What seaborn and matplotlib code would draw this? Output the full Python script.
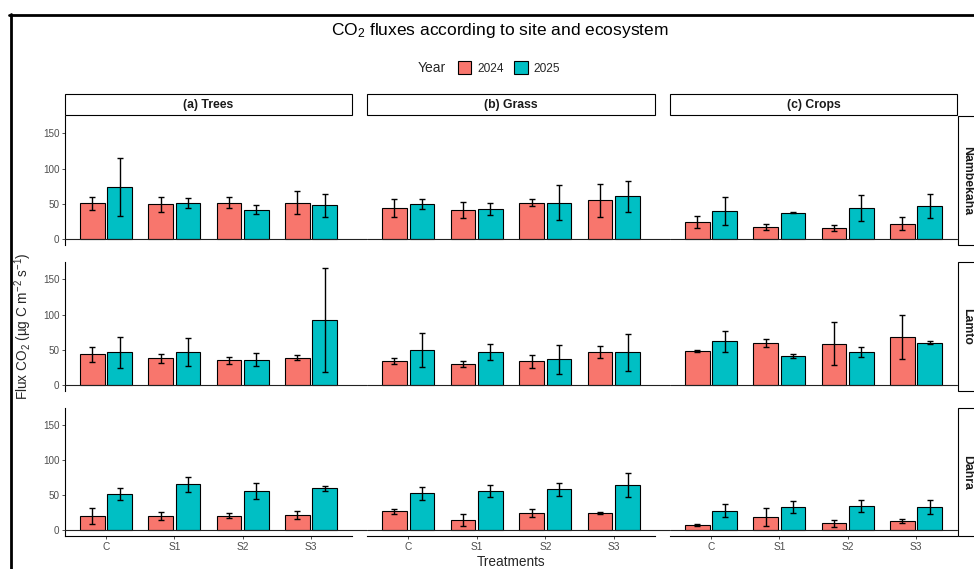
import matplotlib
matplotlib.use("Agg")
import matplotlib.pyplot as plt
import numpy as np
import pandas as pd
import seaborn as sns
from matplotlib.patches import Rectangle, Patch
from matplotlib.lines import Line2D

# ---------------------------------------------------------------- data
treatments = ["C", "S1", "S2", "S3"]
years = ["2024", "2025"]
ecosystems = ["(a) Trees", "(b) Grass", "(c) Crops"]
sites = ["Nambekaha", "Lamto", "Dahra"]

# mean flux per site, ordered Trees C..S3, Grass C..S3, Crops C..S3
nambekaha_2024 = [51, 49.5, 52, 52,   44, 41.5, 52, 55,     24.5, 17, 16, 22]
nambekaha_2025 = [74, 51, 42, 48,     50, 43, 51.5, 61,     40, 37.5, 44, 47]
lamto_2024 = [43.5, 38, 35, 39,       34.5, 30, 34, 47,     48.5, 60, 59, 68.5]
lamto_2025 = [46.5, 46.5, 36, 92.5,   50, 47, 37, 46.5,     62, 41, 47, 60.5]
dahra_2024 = [20, 20.5, 21, 22,       27, 14, 24.5, 24.5,   7.5, 19, 10, 13]
dahra_2025 = [52, 65.5, 56, 60,       52.5, 56, 58.5, 65,   28, 33.5, 34.5, 33.5]

# standard errors, same ordering
nambekaha_se_2024 = [9, 10.5, 8, 17,    13, 11, 5.5, 23.5,  8, 4, 4.5, 9]
nambekaha_se_2025 = [41.5, 7, 6, 16.5,  7.5, 9, 25, 22,     20, 1, 18, 17]
lamto_se_2024 = [10, 6, 5.5, 4,         4, 4, 9, 9,         1.5, 5.5, 30, 31]
lamto_se_2025 = [22, 20, 9, 74,         24, 11, 20.5, 26.5, 15.5, 2.5, 6.5, 1.5]
dahra_se_2024 = [11.5, 6, 4, 5.5,       3.5, 8.5, 5.5, 1,   2, 13, 5, 2.5]
dahra_se_2025 = [9, 11, 11, 3.5,        9, 8, 9.5, 17,      9, 8.5, 8, 10]

means = {"Nambekaha": (nambekaha_2024, nambekaha_2025),
         "Lamto": (lamto_2024, lamto_2025),
         "Dahra": (dahra_2024, dahra_2025)}
ses = {"Nambekaha": (nambekaha_se_2024, nambekaha_se_2025),
       "Lamto": (lamto_se_2024, lamto_se_2025),
       "Dahra": (dahra_se_2024, dahra_se_2025)}

year_colors = {"2024": "#F8766D", "2025": "#00BFC4"}

# ---------------------------------------------------------------- style
sns.set_theme(style="white")
plt.rcParams["font.family"] = ["Liberation Sans", "DejaVu Sans"]
plt.rcParams["mathtext.fontset"] = "custom"
plt.rcParams["mathtext.rm"] = "Liberation Sans"
plt.rcParams["mathtext.it"] = "Liberation Sans:italic"
plt.rcParams["mathtext.bf"] = "Liberation Sans:bold"

W, H = 974, 569
fig = plt.figure(figsize=(W / 100, H / 100), dpi=100)
fig.patch.set_facecolor("white")

col_px = [(65, 352), (367, 655), (670, 957)]
row_px = [(116, 245), (262, 391), (408, 536)]

# shared y range with ggplot-style 5% expansion
ymax = max(max(np.add(means[s][i], ses[s][i])) for s in sites for i in range(2))
ylo, yhi = -0.05 * ymax, 1.05 * ymax

tick_col = "#4D4D4D"
for r, site in enumerate(sites):
    y0, y1 = row_px[r]
    for c, eco in enumerate(ecosystems):
        x0, x1 = col_px[c]
        ax = fig.add_axes([x0 / W, 1 - y1 / H, (x1 - x0) / W, (y1 - y0) / H])
        ax.set_facecolor("white")
        sl = slice(4 * c, 4 * c + 4)
        df = pd.DataFrame({
            "Treatment": treatments * 2,
            "Year": [years[0]] * 4 + [years[1]] * 4,
            "Flux": list(means[site][0][sl]) + list(means[site][1][sl]),
        })
        sns.barplot(data=df, x="Treatment", y="Flux", hue="Year",
                    order=treatments, hue_order=years, palette=year_colors,
                    saturation=1, width=0.8, gap=0.1, errorbar=None,
                    edgecolor="black", linewidth=0.8, legend=False, ax=ax)
        # error bars on top of each bar
        bar_sets = list(ax.containers)
        for k, cont in enumerate(bar_sets):
            xs = [p.get_x() + p.get_width() / 2 for p in cont.patches]
            hs = [p.get_height() for p in cont.patches]
            ax.errorbar(xs, hs, yerr=ses[site][k][sl], fmt="none",
                        ecolor="black", elinewidth=1.0, capsize=2.3,
                        capthick=1.0, zorder=5)
        ax.set_xlim(-0.6, 3.6)
        ax.set_ylim(ylo, yhi)
        ax.set_xlabel("")
        ax.set_ylabel("")
        # zero line running across the whole row
        ext = (col_px[c + 1][0] - x1) / (x1 - x0) if c < 2 else 0
        ax.axhline(0, xmin=0, xmax=1 + ext, color="#222222", lw=0.8,
                   clip_on=False, zorder=4)
        for sp in ax.spines.values():
            sp.set_visible(False)
        if c == 0:
            ax.spines["left"].set_visible(True)
            ax.spines["left"].set_color("black")
            ax.spines["left"].set_linewidth(0.8)
            ax.set_yticks([0, 50, 100, 150])
            ax.tick_params(axis="y", left=True, length=2.5, width=0.6,
                           color="#333333", labelsize=7.1,
                           labelcolor=tick_col, pad=1.5)
        else:
            ax.set_yticks([])
        if r == 2:
            ax.spines["bottom"].set_visible(True)
            ax.spines["bottom"].set_color("black")
            ax.spines["bottom"].set_linewidth(0.8)
            ax.tick_params(axis="x", bottom=True, length=2.5, width=0.6,
                           color="#333333", labelsize=7.3,
                           labelcolor=tick_col, pad=1.5)
        else:
            ax.set_xticks([])

        # column strips
        if r == 0:
            fig.add_artist(Rectangle((x0 / W, 1 - 115 / H), (x1 - x0) / W,
                                     21 / H, transform=fig.transFigure,
                                     facecolor="white", edgecolor="black",
                                     lw=0.8))
            fig.text((x0 + x1) / 2 / W, 1 - 104.5 / H, eco, ha="center",
                     va="center", fontsize=8.8, fontweight="bold",
                     color="#1A1A1A")
    # row strips
    fig.add_artist(Rectangle((958 / W, 1 - y1 / H), 22 / W, (y1 - y0) / H,
                             transform=fig.transFigure, facecolor="white",
                             edgecolor="black", lw=0.8))
    fig.text(967 / W, 1 - (y0 + y1) / 2 / H, site, ha="center", va="center",
             rotation=-90, fontsize=8.8, fontweight="bold", color="#1A1A1A")

# titles and axis labels
fig.text(500 / W, 1 - 30 / H, "CO$_2$ fluxes according to site and ecosystem",
         ha="center", va="center", fontsize=12.5, color="black")
fig.text(511 / W, 1 - 562 / H, "Treatments", ha="center", va="center",
         fontsize=9.8)
fig.text(23 / W, 1 - 326 / H, "Flux CO$_2$ (µg C m$^{-2}$ s$^{-1}$)",
         ha="center", va="center", rotation=90, fontsize=9.8)

# legend
fig.text(418 / W, 1 - 68 / H, "Year", ha="left", va="center", fontsize=10)
handles = [Patch(facecolor=year_colors[y], edgecolor="black", lw=0.8)
           for y in years]
fig.legend(handles, years, loc="center left",
           bbox_to_anchor=(458 / W, 1 - 68 / H), ncol=2, frameon=False,
           fontsize=8.6, handlelength=1.1, handleheight=1.3,
           handletextpad=0.5, columnspacing=0.9, borderpad=0,
           borderaxespad=0)

# outer frame (top and left edges)
fig.add_artist(Line2D([9 / W, 1], [1 - 14.5 / H, 1 - 14.5 / H],
                      transform=fig.transFigure, color="black", lw=2.0))
fig.add_artist(Line2D([10.5 / W, 10.5 / W], [1 - 13.5 / H, 0],
                      transform=fig.transFigure, color="black", lw=2.0))

fig.savefig("out.png", dpi=100, facecolor="white")
